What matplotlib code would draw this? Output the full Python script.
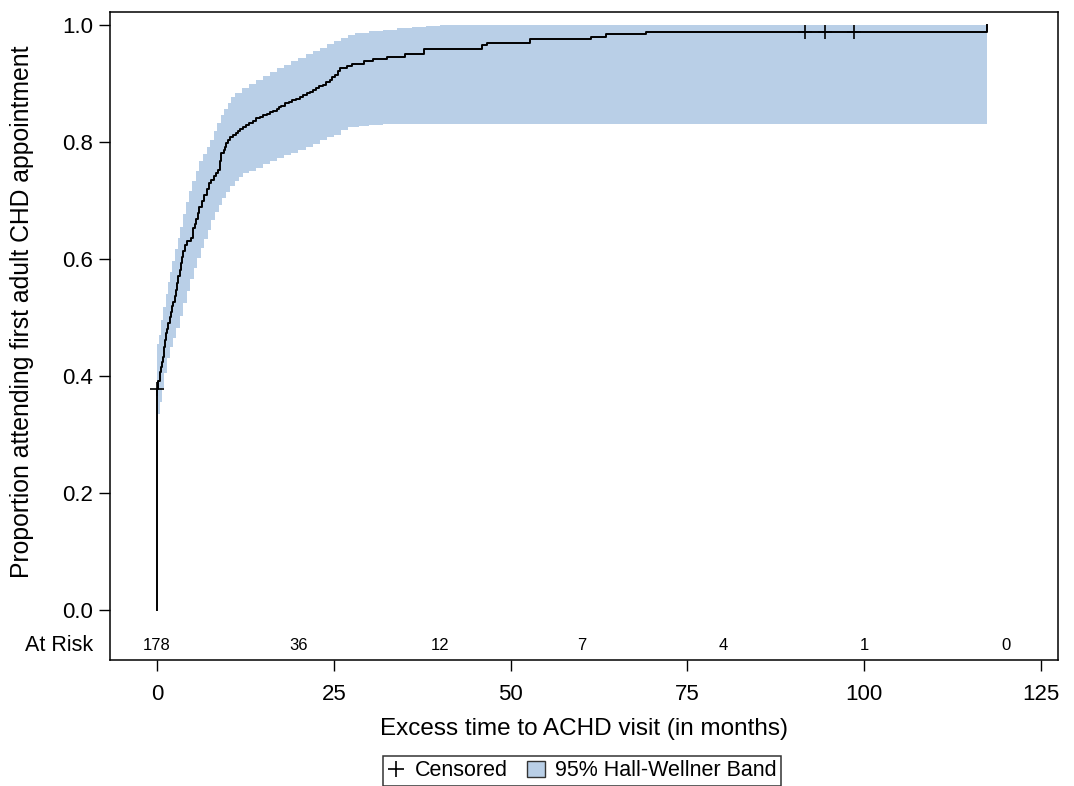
import matplotlib
matplotlib.use("Agg")
import matplotlib.pyplot as plt
from matplotlib.lines import Line2D
from matplotlib.patches import Patch

plt.rcParams['font.family'] = ['Liberation Sans', 'DejaVu Sans']

# Kaplan-Meier (cumulative proportion attending) step points
km_time = [0, 0.1, 0.2, 0.35, 0.45, 0.6, 0.7, 0.82, 0.95, 1.05, 1.15, 1.3, 1.45,
           1.6, 1.8, 2.0, 2.15, 2.3, 2.5, 2.7, 2.85, 3.0, 3.2, 3.4, 3.55, 3.7,
           3.9, 4.3, 4.8, 5.1, 5.3, 5.5, 5.75, 6.0, 6.3, 6.7, 7.0, 7.4, 7.7, 8.0,
           8.3, 8.6, 8.85, 9.1, 9.4, 9.6, 9.8, 10.05, 10.3, 10.8, 11.1, 11.4,
           11.8, 12.2, 12.6, 13.0, 13.5, 14.0, 14.5, 15.0, 15.5, 16.0, 16.4,
           16.9, 17.3, 17.6, 18.1, 18.6, 19.1, 19.6, 20.2, 20.7, 21.2, 21.6,
           22.0, 22.5, 22.9, 23.4, 23.9, 24.4, 24.8, 25.2, 25.6, 25.9, 26.8,
           27.5, 29.2, 30.6, 32.5, 35.1, 37.7, 46.0, 46.7, 52.8, 61.3, 63.5,
           69.1, 117.3]
km_prob = [0.378, 0.385, 0.392, 0.399, 0.407, 0.415, 0.424, 0.433, 0.441, 0.450,
           0.461, 0.473, 0.481, 0.490, 0.500, 0.510, 0.519, 0.527, 0.537, 0.547,
           0.559, 0.570, 0.581, 0.593, 0.604, 0.614, 0.624, 0.630, 0.635, 0.652,
           0.660, 0.669, 0.679, 0.689, 0.699, 0.709, 0.719, 0.729, 0.735, 0.741,
           0.747, 0.752, 0.767, 0.781, 0.786, 0.792, 0.798, 0.804, 0.809, 0.812,
           0.815, 0.818, 0.822, 0.826, 0.829, 0.832, 0.836, 0.840, 0.843, 0.846,
           0.848, 0.851, 0.853, 0.856, 0.859, 0.862, 0.866, 0.869, 0.872, 0.874,
           0.877, 0.880, 0.883, 0.886, 0.889, 0.892, 0.895, 0.898, 0.902, 0.906,
           0.911, 0.915, 0.921, 0.926, 0.929, 0.933, 0.938, 0.941, 0.945, 0.950,
           0.959, 0.966, 0.969, 0.976, 0.979, 0.984, 0.987, 1.0]

# Hall-Wellner band (upper / lower)
band_up_time = [0, 0.3, 0.6, 0.9, 1.2, 1.5, 1.8, 2.1, 2.5, 2.9, 3.3, 3.7, 4.1, 4.5,
                5.0, 5.5, 6.0, 6.5, 7.0, 7.5, 8.0, 8.5, 9.0, 9.5, 10.0, 10.5,
                11.0, 12.0, 13.0, 14.0, 15.0, 16.0, 17.0, 18.0, 19.0, 20.0, 21.0,
                22.0, 23.0, 24.0, 25.0, 26.0, 27.0, 28.0, 30.0, 32.0, 34.0, 36.0,
                38.0, 40.0, 117.3]
band_up = [0.455, 0.470, 0.495, 0.518, 0.540, 0.560, 0.578, 0.596, 0.617, 0.636,
           0.654, 0.677, 0.697, 0.716, 0.733, 0.750, 0.767, 0.780, 0.792, 0.803,
           0.818, 0.832, 0.846, 0.857, 0.867, 0.877, 0.884, 0.892, 0.899, 0.906,
           0.913, 0.920, 0.926, 0.932, 0.938, 0.944, 0.950, 0.955, 0.961, 0.967,
           0.972, 0.978, 0.983, 0.986, 0.989, 0.992, 0.994, 0.996, 0.998, 1.0, 1.0]
band_lo_time = [0, 0.2, 0.4, 0.7, 1.0, 1.4, 1.8, 2.2, 2.7, 3.2, 3.7, 4.2, 4.7, 5.2,
                5.7, 6.2, 6.7, 7.2, 7.7, 8.2, 8.7, 9.2, 9.7, 10.3, 11.0, 11.6,
                12.2, 13.0, 14.0, 15.0, 16.0, 17.0, 18.0, 19.0, 20.0, 21.0, 22.0,
                23.0, 24.0, 25.0, 26.0, 27.0, 28.5, 30.0, 32.0, 117.3]
band_lo = [0.31, 0.335, 0.355, 0.380, 0.405, 0.430, 0.450, 0.465, 0.482, 0.503,
           0.524, 0.546, 0.566, 0.584, 0.602, 0.618, 0.634, 0.650, 0.666, 0.680,
           0.692, 0.704, 0.714, 0.724, 0.733, 0.740, 0.746, 0.750, 0.755, 0.762,
           0.768, 0.773, 0.777, 0.781, 0.786, 0.791, 0.797, 0.803, 0.808, 0.812,
           0.820, 0.825, 0.828, 0.829, 0.830, 0.830]

# Censored observations
cens_time = [0, 91.6, 94.5, 98.6]
cens_prob = [0.378, 0.987, 0.987, 0.987]

# Numbers at risk
risk_time = [0, 20, 40, 60, 80, 100, 120]
risk_n = [178, 36, 12, 7, 4, 1, 0]

x_ticks = [0, 25, 50, 75, 100, 125]
y_ticks = [0.0, 0.2, 0.4, 0.6, 0.8, 1.0]

band_color = '#B9CFE7'

fig = plt.figure(figsize=(10.74, 7.86), dpi=100)
ax = fig.add_axes([110 / 1074, 1 - 660 / 786, (1058 - 110) / 1074, (660 - 12) / 786])

# band as step function on a common time grid
grid = sorted(set(band_up_time) | set(band_lo_time))
def step_val(ts, vs, t):
    v = vs[0]
    for ti, vi in zip(ts, vs):
        if ti <= t:
            v = vi
    return v
up_g = [step_val(band_up_time, band_up, t) for t in grid]
lo_g = [step_val(band_lo_time, band_lo, t) for t in grid]
ax.fill_between(grid, lo_g, up_g, step='post', color=band_color, linewidth=0, zorder=1)

# KM curve, starting with vertical line from 0
xs = [0] + km_time
ys = [0] + km_prob
ax.step(xs, ys, where='post', color='black', lw=1.4, zorder=3)

ax.plot(cens_time, cens_prob, linestyle='none', marker='+', markersize=10,
        markeredgewidth=1.2, color='black', zorder=4)

ax.set_xlim(-6.65, 127.4)
ax.set_ylim(-0.0855, 1.022)
ax.set_yticks(y_ticks)
ax.set_yticklabels([f'{v:.1f}' for v in y_ticks])
ax.set_xticks(x_ticks)
ax.tick_params(axis='both', direction='out', length=8, width=1, labelsize=16, pad=4)
ax.tick_params(axis='x', pad=9)
for s in ax.spines.values():
    s.set_linewidth(1.1)

# at risk row
for t, n in zip(risk_time, risk_n):
    ax.text(t, -0.06, str(n), ha='center', va='center', fontsize=12)
ax.text(-0.018, -0.06, 'At Risk', transform=ax.get_yaxis_transform(),
        ha='right', va='center', fontsize=15.5)

ax.set_xlabel('Excess time to ACHD visit (in months)', fontsize=17.5, labelpad=10)
ax.set_ylabel('Proportion attending first adult CHD appointment', fontsize=17.8)
ax.yaxis.set_label_coords(-0.08, 0.538)

handles = [Line2D([], [], linestyle='none', marker='+', markersize=11,
                  markeredgewidth=1.2, color='black'),
           Patch(facecolor=band_color, edgecolor='#333333', linewidth=1)]
leg = fig.legend(handles, ['Censored', '95% Hall-Wellner Band'], loc='center',
                 bbox_to_anchor=(582 / 1074, 1 - 771 / 786), ncol=2, fontsize=15.5,
                 frameon=True, fancybox=False, edgecolor='black',
                 handlelength=0.8, handleheight=0.8, handletextpad=0.5,
                 columnspacing=0.9, borderpad=0.2, borderaxespad=0)
leg.get_frame().set_linewidth(1.1)

fig.savefig('out.png', dpi=100)
